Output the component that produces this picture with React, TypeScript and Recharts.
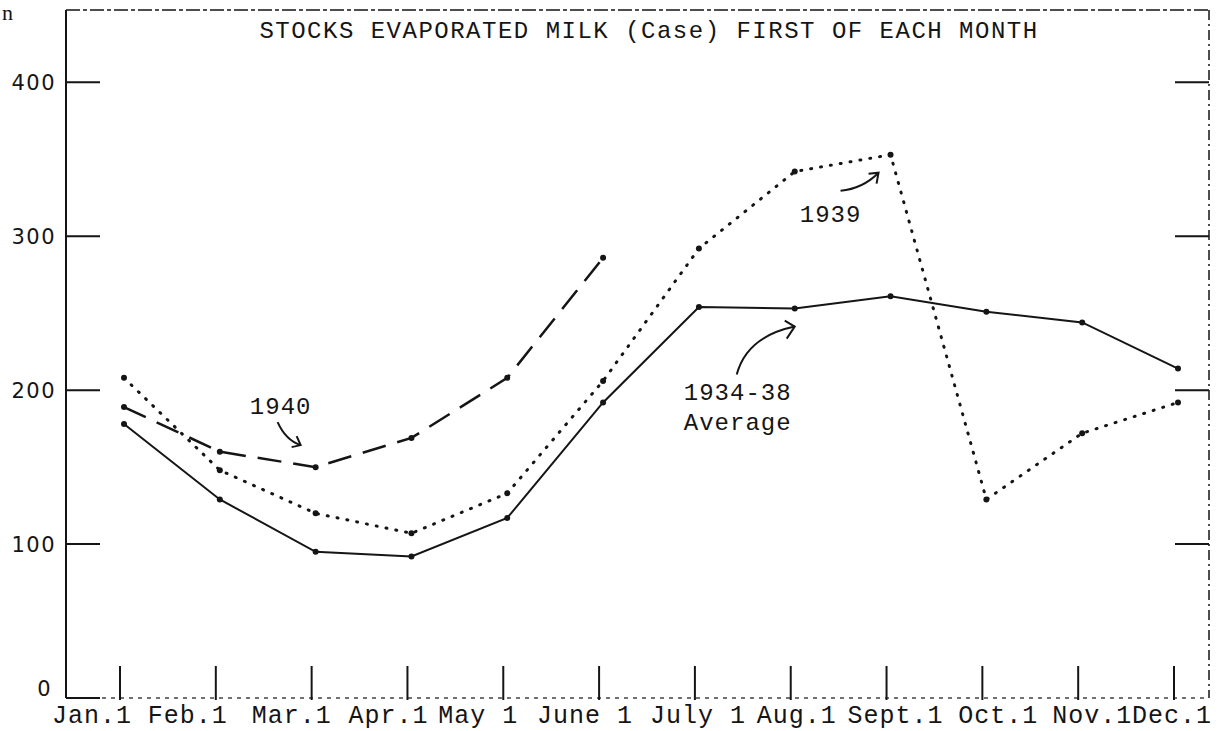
import React from "react";
import {
  Line,
  LineChart,
  ReferenceDot,
  ReferenceLine,
  XAxis,
  YAxis,
} from "recharts";

// first of each month
const months = [
  "Jan.1", "Feb.1", "Mar.1", "Apr.1", "May 1", "June 1",
  "July 1", "Aug.1", "Sept.1", "Oct.1", "Nov.1", "Dec.1",
];
const average3438 = [178, 129, 95, 92, 117, 192, 254, 253, 261, 251, 244, 214];
const stocks1939 = [208, 148, 120, 107, 133, 206, 292, 342, 353, 129, 172, 192];
const stocks1940 = [189, 160, 150, 169, 208, 286, null, null, null, null, null, null];
const yTicks = [0, 100, 200, 300, 400];

const data = months.map((m, i) => ({
  month: m,
  avg: average3438[i],
  y1939: stocks1939[i],
  y1940: stocks1940[i],
}));

const INK = "#151515";
const MONO = "'Liberation Mono', 'DejaVu Sans Mono', monospace";
// typewritten month row does not sit centred under the ticks
const labelShift = [-32, -32, -24, -23, -29, -18, -1, 2, 5, 12, 10, -6];

function LeftTick(props: any) {
  const { x, y, payload } = props;
  const isZero = payload.value === 0;
  return (
    <g>
      <line x1={x} x2={x + 34} y1={y} y2={y} stroke={INK} strokeWidth={2} />
      <text
        x={isZero ? x - 14 : x - 10}
        y={isZero ? y - 2 : y + 8}
        textAnchor="end"
        fontFamily="'DejaVu Sans', sans-serif"
        fontSize={21}
        letterSpacing={1.5}
        fill={INK}
      >
        {payload.value}
      </text>
    </g>
  );
}

function RightTick(props: any) {
  const { x, y, payload } = props;
  if (payload.value === 0) return <g />;
  return <line x1={x - 34} x2={x} y1={y} y2={y} stroke={INK} strokeWidth={2} />;
}

function MonthTick(props: any) {
  const { x, y, payload, index } = props;
  return (
    <g>
      <line x1={x - 4} x2={x - 4} y1={y - 32} y2={y + 2} stroke={INK} strokeWidth={2} />
      <text
        x={x + (labelShift[index] ?? 0)}
        y={y + 25}
        textAnchor="middle"
        fontFamily={MONO}
        fontSize={25}
        letterSpacing={1}
        fill={INK}
      >
        {payload.value}
      </text>
    </g>
  );
}

function Dot(props: any) {
  const { cx, cy, value } = props;
  if (value == null || cx == null || cy == null) return <g />;
  return <circle cx={cx} cy={cy} r={3} fill={INK} />;
}

function Note1940(props: any) {
  const { cx, cy } = props;
  return (
    <g fill="none" stroke={INK} strokeWidth={2}>
      <text x={cx - 35} y={cy - 53} textAnchor="middle" fontFamily={MONO} fontSize={24}
        letterSpacing={1} fill={INK} stroke="none">1940</text>
      <path d={`M${cx - 38} ${cy - 45} Q${cx - 30} ${cy - 27} ${cx - 15} ${cy - 22}`} />
      <path d={`M${cx - 24} ${cy - 20} L${cx - 15} ${cy - 22} L${cx - 19} ${cy - 31}`} />
    </g>
  );
}

function Note1939(props: any) {
  const { cx, cy } = props;
  return (
    <g fill="none" stroke={INK} strokeWidth={2}>
      <text x={cx - 60} y={cy + 67} textAnchor="middle" fontFamily={MONO} fontSize={24}
        letterSpacing={1} fill={INK} stroke="none">1939</text>
      <path d={`M${cx - 50} ${cy + 36} Q${cx - 28} ${cy + 34} ${cx - 12} ${cy + 18}`} />
      <path d={`M${cx - 22} ${cy + 19} L${cx - 12} ${cy + 18} L${cx - 14} ${cy + 29}`} />
    </g>
  );
}

function NoteAverage(props: any) {
  const { cx, cy } = props;
  return (
    <g fill="none" stroke={INK} strokeWidth={2}>
      <text x={cx - 57} y={cy + 91} textAnchor="middle" fontFamily={MONO} fontSize={24}
        letterSpacing={1} fill={INK} stroke="none">1934-38</text>
      <text x={cx - 57} y={cy + 121} textAnchor="middle" fontFamily={MONO} fontSize={24}
        letterSpacing={1} fill={INK} stroke="none">Average</text>
      <path d={`M${cx - 58} ${cy + 66} Q${cx - 48} ${cy + 28} ${cx} ${cy + 18}`} />
      <path d={`M${cx - 10} ${cy + 12} L${cx} ${cy + 18} L${cx - 8} ${cy + 30}`} />
    </g>
  );
}

export default function App() {
  return (
    <div
      style={{
        position: "absolute",
        left: 0,
        top: 0,
        width: 1223,
        height: 731,
        background: "#fff",
        overflow: "hidden",
      }}
    >
      <div
        style={{
          position: "absolute",
          left: 2,
          top: 0,
          fontFamily: "'Liberation Serif', serif",
          fontSize: 22,
          lineHeight: "26px",
          color: INK,
        }}
      >
        n
      </div>
      <div
        style={{
          position: "absolute",
          left: 0,
          width: 1298,
          top: 20,
          textAlign: "center",
          fontFamily: MONO,
          fontSize: 24,
          lineHeight: "24px",
          letterSpacing: 1.5,
          color: INK,
          whiteSpace: "nowrap",
        }}
      >
        STOCKS EVAPORATED MILK (Case) FIRST OF EACH MONTH
      </div>
      <LineChart
        width={1223}
        height={731}
        data={data}
        margin={{ top: 10, right: 11, bottom: 0, left: 0 }}
      >
        <XAxis
          dataKey="month"
          height={33}
          padding={{ left: 58, right: 31 }}
          tickLine={false}
          tickSize={0}
          tickMargin={0}
          interval={0}
          tick={<MonthTick />}
          axisLine={{ stroke: "#444", strokeWidth: 1.5, strokeDasharray: "4 5" }}
        />
        <YAxis
          yAxisId="left"
          width={66}
          domain={[0, 447]}
          ticks={yTicks}
          allowDataOverflow
          tickLine={false}
          tickSize={0}
          tickMargin={0}
          tick={<LeftTick />}
          axisLine={{ stroke: INK, strokeWidth: 2 }}
        />
        <YAxis
          yAxisId="right"
          orientation="right"
          width={3}
          domain={[0, 447]}
          ticks={yTicks}
          allowDataOverflow
          tickLine={false}
          tickSize={0}
          tickMargin={0}
          tick={<RightTick />}
          axisLine={{ stroke: INK, strokeWidth: 1.5, strokeDasharray: "10 4 2 4" }}
        />
        <ReferenceLine
          yAxisId="left"
          y={447}
          stroke={INK}
          strokeWidth={1.5}
          strokeDasharray="14 3 4 3"
        />
        <Line
          yAxisId="left"
          dataKey="avg"
          type="linear"
          stroke={INK}
          strokeWidth={2}
          dot={<Dot />}
          isAnimationActive={false}
        />
        <Line
          yAxisId="left"
          dataKey="y1939"
          type="linear"
          stroke={INK}
          strokeWidth={3}
          strokeDasharray="1 9"
          strokeLinecap="round"
          dot={<Dot />}
          isAnimationActive={false}
        />
        <Line
          yAxisId="left"
          dataKey="y1940"
          type="linear"
          stroke={INK}
          strokeWidth={2.5}
          strokeDasharray="24 12"
          dot={<Dot />}
          connectNulls={false}
          isAnimationActive={false}
        />
        <ReferenceDot yAxisId="left" x="Mar.1" y={150} r={0} shape={<Note1940 />} />
        <ReferenceDot yAxisId="left" x="Sept.1" y={353} r={0} shape={<Note1939 />} />
        <ReferenceDot yAxisId="left" x="Aug.1" y={253} r={0} shape={<NoteAverage />} />
      </LineChart>
    </div>
  );
}
